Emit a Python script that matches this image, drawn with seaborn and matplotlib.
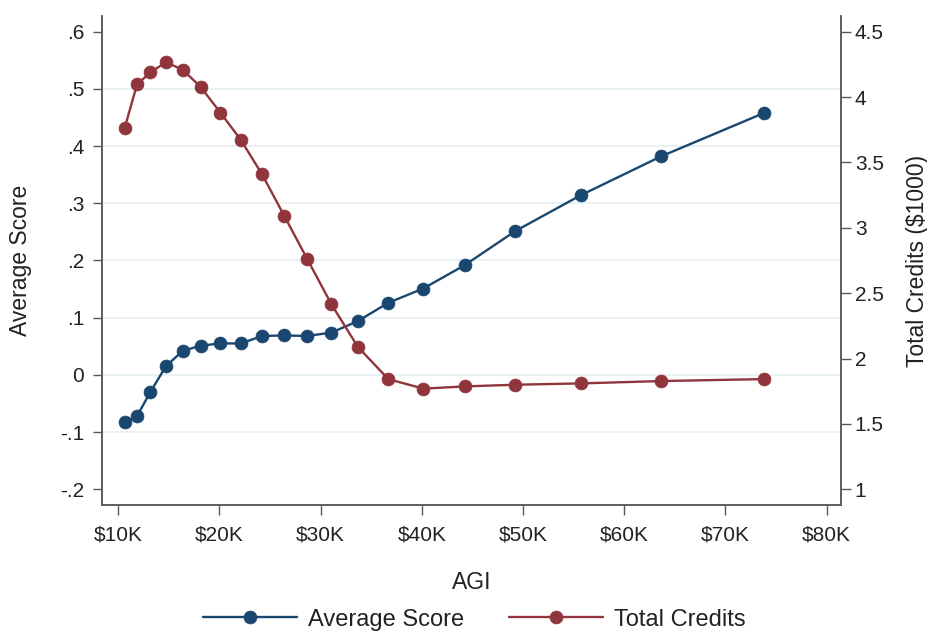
import numpy as np
import pandas as pd
import matplotlib
matplotlib.use("Agg")
import matplotlib.pyplot as plt
import seaborn as sns
from matplotlib.ticker import FuncFormatter, FixedLocator

# AGI bins (in $1000)
agi_k = [10.62, 11.85, 13.17, 14.70, 16.36, 18.14, 20.09, 22.13, 24.20, 26.42,
         28.66, 31.07, 33.67, 36.68, 40.14, 44.25, 49.24, 55.70, 63.64, 73.83]
avg_score = [-0.083, -0.072, -0.030, 0.015, 0.042, 0.051, 0.055, 0.055, 0.068, 0.069,
             0.068, 0.074, 0.094, 0.126, 0.151, 0.192, 0.2515, 0.314, 0.382, 0.458]
total_credits = [3.761, 4.097, 4.189, 4.266, 4.210, 4.077, 3.881, 3.670, 3.410, 3.089,
                 2.763, 2.414, 2.090, 1.843, 1.770, 1.787, 1.800, 1.810, 1.828, 1.843]

x_ticks = [10, 20, 30, 40, 50, 60, 70, 80]
left_ticks = [-0.2, -0.1, 0, 0.1, 0.2, 0.3, 0.4, 0.5, 0.6]
right_ticks = [1, 1.5, 2, 2.5, 3, 3.5, 4, 4.5]

blue = "#1a476f"
red = "#90353b"
axis_col = "#595959"
grid_col = "#e8f1f3"

df = pd.DataFrame({"agi": agi_k, "score": avg_score, "credits": total_credits})

sns.set_theme(style="white")
plt.rcParams["font.family"] = ["Liberation Sans", "DejaVu Sans"]
plt.rcParams["text.color"] = "#222222"
plt.rcParams["axes.labelcolor"] = "#222222"
plt.rcParams["xtick.color"] = axis_col
plt.rcParams["ytick.color"] = axis_col
plt.rcParams["xtick.labelcolor"] = "#222222"
plt.rcParams["ytick.labelcolor"] = "#222222"

fig = plt.figure(figsize=(9.28, 6.33), dpi=100)
ax = fig.add_axes([0.1096, 0.2022, 0.9062 - 0.1096, 0.9747 - 0.2022])
ax2 = ax.twinx()

sns.lineplot(data=df, x="agi", y="score", ax=ax, color=blue, linewidth=1.7,
             marker="o", markersize=9.3, markeredgecolor=blue, markeredgewidth=0.5,
             label="Average Score", legend=False)
sns.lineplot(data=df, x="agi", y="credits", ax=ax2, color=red, linewidth=1.7,
             marker="o", markersize=9.3, markeredgecolor=red, markeredgewidth=0.5,
             label="Total Credits", legend=False)

ax.set_xlim(8.36, 81.42)
ax.set_ylim(-0.2275, 0.6274)
ax2.set_ylim(0.88, 4.62)

ax.xaxis.set_major_locator(FixedLocator(x_ticks))
ax.xaxis.set_major_formatter(FuncFormatter(lambda v, p: f"${int(v)}K"))
ax.yaxis.set_major_locator(FixedLocator(left_ticks))


def fmt_left(v, p):
    if abs(v) < 1e-9:
        return "0"
    s = f"{v:.1f}"
    return s.replace("0.", ".")


ax.yaxis.set_major_formatter(FuncFormatter(fmt_left))
ax2.yaxis.set_major_locator(FixedLocator(right_ticks))
ax2.yaxis.set_major_formatter(FuncFormatter(lambda v, p: f"{v:g}"))

# grid on inner left-axis ticks only
ax.grid(axis="y", color=grid_col, linewidth=1.4)
ax.set_axisbelow(True)
glines = ax.get_ygridlines()
glines[0].set_visible(False)
glines[-1].set_visible(False)

for a in (ax, ax2):
    a.spines["top"].set_visible(False)
    for s in ("left", "right", "bottom"):
        a.spines[s].set_color(axis_col)
        a.spines[s].set_linewidth(1.1)

ax.tick_params(axis="x", direction="out", length=7, width=1.0, pad=8, labelsize=15,
               bottom=True)
ax.tick_params(axis="y", direction="out", length=6.5, width=1.0, pad=6, labelsize=15,
               left=True)
ax2.tick_params(axis="y", direction="out", length=7, width=1.0, pad=3, labelsize=15,
                right=True)

ax.set_xlabel("AGI", fontsize=16.5, labelpad=19)
ax.set_ylabel("Average Score", fontsize=16.5, labelpad=20)
ax2.set_ylabel("Total Credits ($1000)", fontsize=16.5, labelpad=16)

h1, l1 = ax.get_legend_handles_labels()
h2, l2 = ax2.get_legend_handles_labels()
fig.legend(h1 + h2, l1 + l2, loc="center", bbox_to_anchor=(0.511, 0.021), ncol=2,
           frameon=False, fontsize=17, handlelength=4.0, handletextpad=0.45,
           columnspacing=1.9)

fig.savefig("out.png", dpi=100)
